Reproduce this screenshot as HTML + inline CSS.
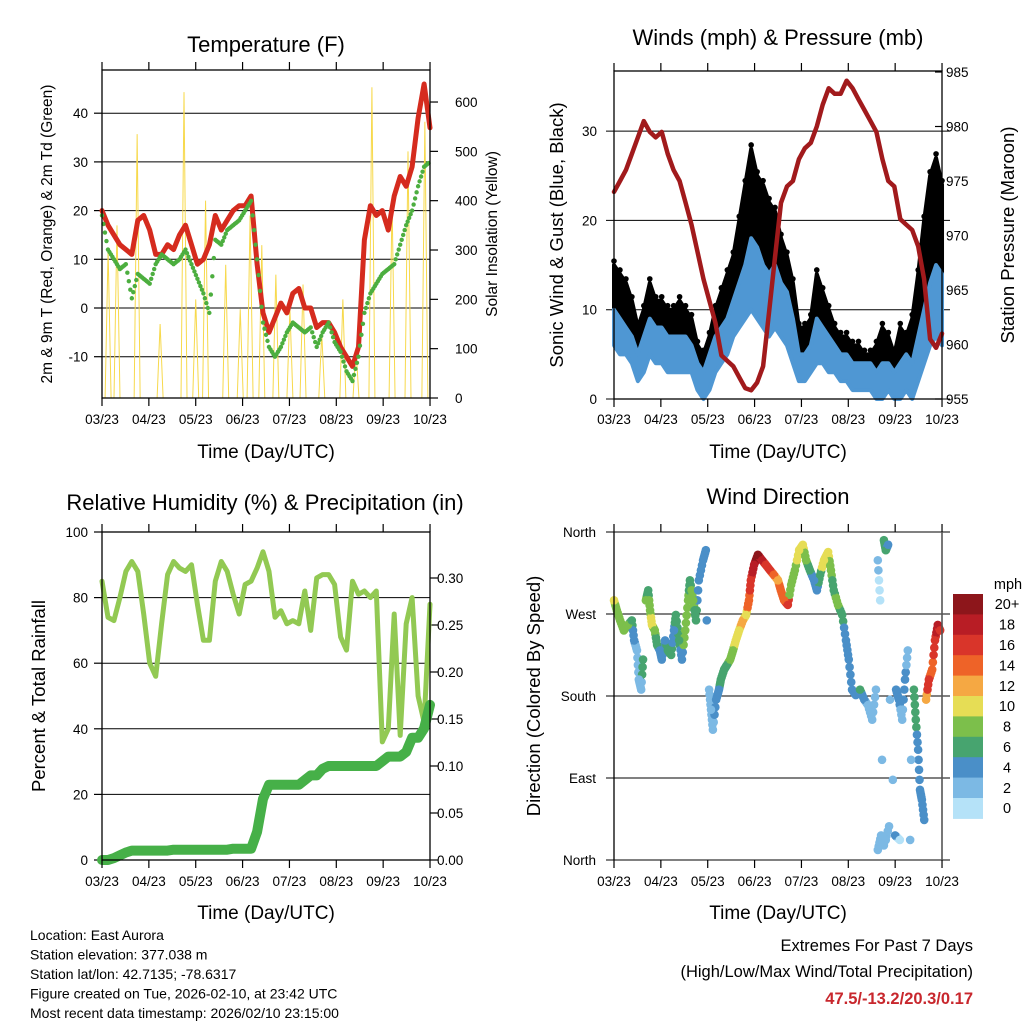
<!DOCTYPE html>
<html><head><meta charset="utf-8">
<style>
html,body{margin:0;padding:0;background:#fff;}
svg{display:block;font-family:"Liberation Sans",Arial,sans-serif;}
</style></head>
<body>
<svg id="root" width="1024" height="1024" viewBox="0 0 1024 1024">
<rect width="1024" height="1024" fill="#fff"/>
</svg>
<script>
// ---------- DATA ----------
const monthLabels = ["03/23","04/23","05/23","06/23","07/23","08/23","09/23","10/23"];
const tempRed = [20,17,15,13,12,11,18,19,16,11,11,13,12,15,17,13,9,10,13,19,16,18,20,21,21,23,9,-1,-5,-2,1,-1,3,4,0,0,-4,-3,-3,-5,-8,-10,-12,-8,14,21,19,20,16,23,27,25,29,39,46,37];
const tempDew = [19,12,10,8,9,2,7,6,5,9,11,10,9,10,12,9,6,3,-1,14,13,16,17,18,20,22,10,-3,-8,-10,-8,-5,-3,-4,-5,-4,-8,-5,-3,-7,-9,-13,-15,-10,-1,3,5,7,8,9,13,17,20,25,29,30];
const solarTimes = [0.13,0.32,0.75,1.24,1.75,2.00,2.21,2.64,2.95,3.16,3.41,3.71,4.01,4.29,4.69,5.14,5.42,5.76,6.19,6.53,6.89];
const solarPeaks = [300,350,535,150,620,200,400,270,180,370,310,250,180,230,130,200,100,630,400,500,560];
const tempTicks = [-10,0,10,20,30,40];
const solarTicks = [0,100,200,300,400,500,600];
const pressure = [974,975,976,977.5,979,980.5,979.5,979,979.5,977.5,976,975,973,971,968.5,966,964,962,959,958.5,958,957,956,955.8,956.5,958,963,968,973,974.5,975,977,978,978.5,980,982,983.5,983,983,984.2,983.5,982.5,981.5,980.5,979.5,977,975,974.5,971.5,971,970.5,969,966,960.5,959.7,961];
const windLow = [6,5,5,4,2,3,5,4,4,3,3,3,3,3,1,0,1,3,4,5,7,8,9,10,9,8,7,8,7,6,4,2,2,3,4,4,3,3,2,2,1,1,1,1,0,0,1,0,0,1,0,2,4,6,7,6];
const windHigh = [10,9,8,7,5,7,9,8,8,7,7,7,7,6,4,3,5,7,8,9,11,13,15,18,17,15,14,15,13,12,9,5,5,6,9,8,7,6,5,5,4,4,4,4,3,4,4,3,4,5,4,7,10,13,15,14];
const gustHigh = [15,14,13,11,8,10,13,11,11,10,10,11,10,9,6,5,7,10,12,14,16,20,24,28,25,24,22,21,18,16,13,8,8,9,14,12,10,8,7,7,6,6,5,5,6,8,7,5,8,7,9,14,20,25,27,24];
const windTicks = [0,10,20,30];
const pressTicks = [955,960,965,970,975,980,985];
const rh = [85,74,73,80,88,91,88,75,60,56,72,87,91,89,88,90,78,67,67,85,91,88,81,75,84,85,89,94,88,74,76,72,73,72,82,70,86,87,87,84,68,64,85,81,82,80,82,36,40,75,38,72,80,50,42,78];
const precip = [0,0,0.002,0.005,0.008,0.01,0.01,0.01,0.01,0.01,0.01,0.01,0.011,0.011,0.011,0.011,0.011,0.011,0.011,0.011,0.011,0.011,0.012,0.012,0.012,0.012,0.03,0.065,0.08,0.08,0.08,0.08,0.08,0.08,0.085,0.09,0.09,0.097,0.1,0.1,0.1,0.1,0.1,0.1,0.1,0.1,0.1,0.105,0.11,0.11,0.11,0.115,0.13,0.13,0.14,0.165];
const rhTicks = [0,20,40,60,80,100];
const precipTicks = [0,0.05,0.10,0.15,0.20,0.25,0.30];
const dirTimes = [0.00,0.06,0.13,0.21,0.30,0.38,0.43,0.49,0.53,0.58,0.62,0.68,0.73,0.77,0.81,0.87,0.92,0.98,1.02,1.09,1.15,1.22,1.28,1.32,1.39,1.45,1.52,1.58,1.62,1.69,1.75,1.81,1.90,1.96,1.98,2.03,2.07,2.11,2.18,2.24,2.28,2.35,2.41,2.48,2.54,2.60,2.67,2.75,2.82,2.88,2.92,2.99,3.07,3.16,3.24,3.33,3.41,3.50,3.56,3.63,3.71,3.78,3.86,3.95,4.03,4.10,4.18,4.27,4.33,4.40,4.48,4.57,4.63,4.69,4.78,4.87,4.95,5.01,5.08,5.16,5.25,5.34,5.42,5.51,5.59,5.63,5.68,5.72,5.76,5.80,5.85,5.80,5.89,5.95,6.02,6.08,6.15,6.21,6.27,6.34,6.40,6.44,6.49,6.53,6.57,6.62,6.66,6.72,6.79,6.85,6.91,6.96,5.63,5.70,5.76,5.87,6.00,6.10,6.32];
const dirValues = [285,274,263,252,258,263,241,230,198,187,220,285,296,274,258,252,236,230,220,241,230,225,252,269,241,220,252,285,307,285,263,307,329,340,263,187,165,143,176,187,198,209,214,220,230,241,252,263,269,285,307,324,335,329,324,318,313,307,296,285,280,302,318,340,346,329,318,307,296,313,329,338,318,296,280,269,241,220,187,181,187,176,170,154,187,329,285,110,351,340,346,22,176,88,187,176,154,198,230,110,187,154,121,77,66,44,176,198,209,241,258,252,11,27,16,37,27,22,22];
const dirSpeeds = [9,8,7,7,8,6,4,2,2,2,6,7,5,8,9,7,6,4,4,4,6,5,4,6,5,4,7,8,6,7,5,4,4,3,4,2,2,2,3,4,5,6,6,7,8,9,10,11,10,14,15,18,20,17,16,15,14,11,13,14,15,8,7,10,9,8,5,4,3,5,9,10,7,6,7,6,4,4,4,4,5,4,2,1,2,2,0,2,5,6,4,1,2,2,3,4,2,3,1,1,6,6,4,4,4,3,12,16,13,15,17,16,1,1,2,1,4,0,1];
const dirLabels = ["North","East","South","West","North"];
const dirTicks = [0,90,180,270,360];
const speedLevels = ["0","2","4","6","8","10","12","14","16","18","20+"];
const speedColors = ["#b5e2f8","#7cb9e4","#4a8fc8","#47a46f","#7cbf4b","#e6dd55","#f5a843","#ee6328","#d9352a","#b81d25","#8d161b"];

// ---------- HELPERS ----------
const NS = "http://www.w3.org/2000/svg";
const root = document.getElementById("root");
function mk(tag, attrs, parent){
  const e = document.createElementNS(NS, tag);
  for (const k in attrs) e.setAttribute(k, attrs[k]);
  (parent || root).appendChild(e);
  return e;
}
function txt(s, x, y, size, anchor, parent, extra){
  const e = mk("text", Object.assign({x:x, y:y, "font-size":size, "text-anchor":anchor||"middle", fill:"#000"}, extra||{}), parent);
  e.textContent = s;
  return e;
}
const MW = 46.86;
function tOf(i, n){ return i*7/(n-1); }
function panelFrame(name){
  const g = mk("g", {});
  
  
  return g;
}
function xAxis(g, L, T, B, labelY, titleY){
  for (let i=0;i<8;i++){
    const x = L + i*MW;
    const tk = mk("line",{x1:x,y1:B,x2:x,y2:B+8,stroke:"#000","stroke-width":1.2},g);
    
    
    mk("line",{x1:x,y1:T,x2:x,y2:T-8,stroke:"#000","stroke-width":1.2},g);
    const lb = txt(monthLabels[i], x, labelY, 13.5, "middle", g);
    
    
  }
  const tt = txt("Time (Day/UTC)", L+164, titleY, 19, "middle", g);
  
  
}
function box(g, L, T, R, B){
  const r = mk("rect",{x:L,y:T,width:R-L,height:B-T,fill:"none",stroke:"#000","stroke-width":1.3},g);
  
  
}
function polyline(g, pts, color, w, extra){
  return mk("polyline", Object.assign({points:pts.map(p=>p[0].toFixed(1)+","+p[1].toFixed(1)).join(" "), fill:"none", stroke:color, "stroke-width":w, "stroke-linejoin":"round","stroke-linecap":"round"}, extra||{}), g);
}

// ---------- PANEL 1 ----------
(function(){
  const L=102,T=70,R=430,B=398;
  const X = t => L + t*MW;
  const Y = v => 308 - v*4.87;
  const YS = v => 398 - v*0.4933;
  const g = panelFrame("temperature-panel");
  const title = txt("Temperature (F)", 266, 52, 22, "middle", g);
  
  
  tempTicks.forEach(v=>{
    const y=Y(v);
    mk("line",{x1:L,y1:y,x2:R,y2:y,stroke:"#000","stroke-width":1},g);
    mk("line",{x1:L-8,y1:y,x2:L,y2:y,stroke:"#000","stroke-width":1.2},g);
    const lb = txt(String(v), L-14, y+5, 13.5, "end", g);
    
    
  });
  solarTicks.forEach(v=>{
    const y=YS(v);
    mk("line",{x1:R,y1:y,x2:R+8,y2:y,stroke:"#000","stroke-width":1.2},g);
    const lb = txt(String(v), R+25, y+5, 13.5, "start", g);
    
    
  });
  solarTimes.forEach((t,i)=>{
    const x=X(t), y=YS(solarPeaks[i]);
    const p = mk("polyline",{points:`${x-3},${B} ${x},${y} ${x+3},${B}`,fill:"none",stroke:"#f7d94c","stroke-width":1},g);
    
    
  });
  const red = polyline(g, tempRed.map((v,i)=>[X(tOf(i,tempRed.length)),Y(v)]), "#d52b1e", 5);
  
  
  const dew = tempDew.map((v,i)=>[X(tOf(i,tempDew.length)),Y(v)]);
  for (let i=0;i<dew.length-1;i++){
    for (let k=0;k<4;k++){
      const f=k/4, x=dew[i][0]+(dew[i+1][0]-dew[i][0])*f, y=dew[i][1]+(dew[i+1][1]-dew[i][1])*f;
      const c = mk("circle",{cx:x,cy:y,r:2.2,fill:"#4cae3f"},g);
      
      
    }
  }
  box(g,L,T,R,B);
  xAxis(g,L,T,B,424,458);
  const yl = txt("2m & 9m T (Red, Orange) & 2m Td (Green)", 0,0,15.5,"middle",g,{transform:"translate(52,234) rotate(-90)"});
  
  
  const yr = txt("Solar Insolation (Yellow)", 0,0,15.5,"middle",g,{transform:"translate(497,234) rotate(-90)"});
  
  
})();

// ---------- PANEL 2 ----------
(function(){
  const L=614,T=71,R=942,B=399;
  const X = t => L + t*MW;
  const Y = v => 399 - v*8.93;
  const YP = v => 399 - (v-955)*10.9;
  const g = panelFrame("winds-panel");
  const title = txt("Winds (mph) & Pressure (mb)", 778, 45, 22, "middle", g);
  
  
  windTicks.forEach(v=>{
    const y=Y(v);
    mk("line",{x1:L-8,y1:y,x2:R+8,y2:y,stroke:"#000","stroke-width":1},g);
    const lb = txt(String(v), L-17, y+5, 13.5, "end", g);
    
    
  });
  pressTicks.forEach(v=>{
    const y=YP(v);
    mk("line",{x1:R-7,y1:y,x2:R,y2:y,stroke:"#000","stroke-width":1.2},g);
    const lb = txt(String(v), R+4, y+5, 13.5, "start", g);
    
    
  });
  const n = gustHigh.length;
  const up = gustHigh.map((v,i)=>[X(tOf(i,n)),Y(v)]);
  const mid = windHigh.map((v,i)=>[X(tOf(i,n)),Y(v)]);
  const lo = windLow.map((v,i)=>[X(tOf(i,n)),Y(v)]);
  const gp = mk("polygon",{points:up.concat(mid.slice().reverse()).map(p=>p.join(",")).join(" "),fill:"#000",stroke:"#000","stroke-width":4,"stroke-linejoin":"round"},g);
  
  
  up.forEach((p)=>{
    const c = mk("circle",{cx:p[0],cy:p[1]-4,r:2.8,fill:"#000"},g);
    
    
  });
  const wp = mk("polygon",{points:mid.concat(lo.slice().reverse()).map(p=>p.join(",")).join(" "),fill:"#4f97d3",stroke:"#4f97d3","stroke-width":4,"stroke-linejoin":"round"},g);
  
  
  const pl = polyline(g, pressure.map((v,i)=>[X(tOf(i,pressure.length)),YP(v)]), "#a11a1c", 4.5);
  
  
  box(g,L,T,R,B);
  xAxis(g,L,T,B,424,458);
  const yl = txt("Sonic Wind & Gust (Blue, Black)", 0,0,18.5,"middle",g,{transform:"translate(563,235) rotate(-90)"});
  
  
  const yr = txt("Station Pressure (Maroon)", 0,0,18.5,"middle",g,{transform:"translate(1014,235) rotate(-90)"});
  
  
})();

// ---------- PANEL 3 ----------
(function(){
  const L=102,T=532,R=430,B=860;
  const X = t => L + t*MW;
  const Y = v => 860 - v*3.28;
  const YP = v => 860 - v*940;
  const g = panelFrame("humidity-panel");
  const title = txt("Relative Humidity (%) & Precipitation (in)", 265, 510, 22, "middle", g);
  
  
  rhTicks.forEach(v=>{
    const y=Y(v);
    if (v>0 && v<100) mk("line",{x1:L,y1:y,x2:R,y2:y,stroke:"#000","stroke-width":1},g);
    mk("line",{x1:L-8,y1:y,x2:L,y2:y,stroke:"#000","stroke-width":1.2},g);
    const lb = txt(String(v), L-14, y+5, 13.5, "end", g);
    
    
  });
  precipTicks.forEach(v=>{
    const y=YP(v);
    mk("line",{x1:R,y1:y,x2:R+8,y2:y,stroke:"#000","stroke-width":1.2},g);
    const lb = txt(v.toFixed(2), R+7, y+5, 13.5, "start", g);
    
    
  });
  const rl = polyline(g, rh.map((v,i)=>[X(tOf(i,rh.length)),Y(v)]), "#92c953", 5);
  
  
  const pl = polyline(g, precip.map((v,i)=>[X(tOf(i,precip.length)),YP(v)]), "#46b048", 10);
  
  
  box(g,L,T,R,B);
  xAxis(g,L,T,B,886,919);
  const yl = txt("Percent & Total Rainfall", 0,0,18.5,"middle",g,{transform:"translate(45,696) rotate(-90)"});
  
  
})();

// ---------- PANEL 4 ----------
(function(){
  const L=614,T=532,R=942,B=860;
  const X = t => L + t*MW;
  const Y = d => 860 - d*328/360;
  const g = panelFrame("wind-direction-panel");
  const title = txt("Wind Direction", 778, 504, 22, "middle", g);
  
  
  dirTicks.forEach((d,i)=>{
    const y=Y(d);
    mk("line",{x1:L-8,y1:y,x2:R+8,y2:y,stroke:"#000","stroke-width":1},g);
    const lb = txt(dirLabels[i], L-18, y+5, 13.5, "end", g);
    
    
  });
  const col = s => speedColors[Math.min(10, Math.max(0, Math.round(s/2)))];
  // fill between neighbouring samples of the same cluster
  for (let i=0;i<dirTimes.length-1;i++){
    const dt = dirTimes[i+1]-dirTimes[i], dd = dirValues[i+1]-dirValues[i];
    if (dt>0 && dt<0.12 && Math.abs(dd)<45){
      for (let k=1;k<4;k++){
        const f=k/4;
        const c = mk("circle",{cx:X(dirTimes[i]+dt*f),cy:Y(dirValues[i]+dd*f),r:4.3,fill:col(f<0.5?dirSpeeds[i]:dirSpeeds[i+1])},g);
        
        
      }
    }
  }
  dirTimes.forEach((t,i)=>{
    const c = mk("circle",{cx:X(t),cy:Y(dirValues[i]),r:4.3,fill:col(dirSpeeds[i])},g);
    
    
  });
  mk("line",{x1:L,y1:T,x2:L,y2:B,stroke:"#000","stroke-width":1.3},g);
  mk("line",{x1:R,y1:T,x2:R,y2:B,stroke:"#555","stroke-width":1.6},g);
  xAxis(g,L,T,B,886,919);
  const yl = txt("Direction (Colored By Speed)", 0,0,18.5,"middle",g,{transform:"translate(540,696) rotate(-90)"});
  
  
  const cb = mk("g",{},g);
  
  
  const u = mk("text",{x:1008,y:589,"font-size":14.5,"text-anchor":"middle",fill:"#000"},cb);
  u.textContent = "mph";
  
  
  const h = 20.4;
  for (let k=0;k<11;k++){
    const idx = 10-k;
    const y = 594 + k*h;
    const r = mk("rect",{x:953,y:y,width:30,height:h+0.5,fill:speedColors[idx]},cb);
    
    
    const lb = mk("text",{x:1007,y:y+h/2+5,"font-size":14.5,"text-anchor":"middle",fill:"#000"},cb);
    lb.textContent = speedLevels[idx];
    
    
  }
})();

// ---------- FOOTER ----------
(function(){
  const g = mk("g",{});
  
  
  const lines = ["Location: East Aurora","Station elevation: 377.038 m","Station lat/lon: 42.7135; -78.6317","Figure created on Tue, 2026-02-10, at 23:42 UTC","Most recent data timestamp: 2026/02/10 23:15:00"];
  lines.forEach((s,i)=>{
    const t = txt(s, 30, 940+i*19.5, 14, "start", g);
    
    
  });
  const g2 = mk("g",{});
  
  
  const a = txt("Extremes For Past 7 Days", 973, 951, 16.5, "end", g2);
  
  
  const b = txt("(High/Low/Max Wind/Total Precipitation)", 973, 977, 16.5, "end", g2);
  
  
  const c = txt("47.5/-13.2/20.3/0.17", 973, 1004, 16.5, "end", g2, {fill:"#c8272d","font-weight":"bold"});
  
  
})();
</script>
</body></html>
